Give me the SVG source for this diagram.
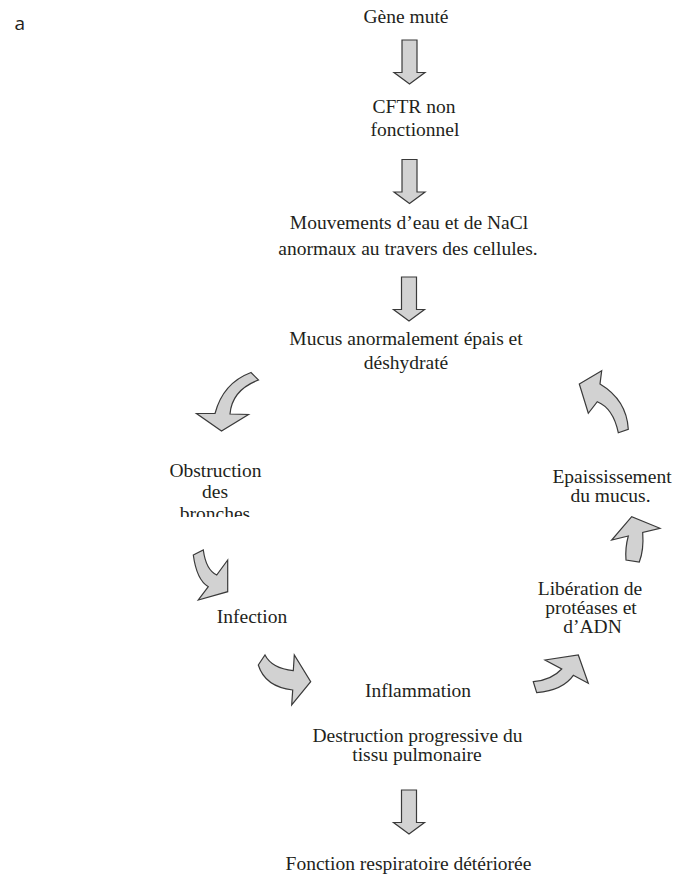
<svg xmlns="http://www.w3.org/2000/svg" width="676" height="879" viewBox="0 0 676 879">
<style>
.t{font-family:"Liberation Serif","Times New Roman",serif;font-size:19.5px;fill:#231f20;text-anchor:middle}
.lbl{font-family:"Open Sans","Liberation Sans",sans-serif;font-size:19px;fill:#231f20}
.ar{fill:#d2d2d2;stroke:#3a3a3a;stroke-width:1.2;stroke-linejoin:miter}
</style>
<defs>
<path id="down" d="M-7.5,0 H7.5 V32.5 H15.5 L0,44 L-15.5,32.5 H-7.5 Z"/>
<clipPath id="clipObs"><rect x="150" y="450" width="140" height="67"/></clipPath>
</defs>
<rect width="676" height="879" fill="#ffffff"/>
<text class="lbl" x="14.5" y="30">a</text>

<g id="gene"><text class="t" x="406" y="22.5">Gène muté</text></g>
<g id="cftr"><text class="t" x="414" y="113">CFTR non</text><text class="t" x="415" y="135.5">fonctionnel</text></g>
<g id="mouvements"><text class="t" x="409" y="229">Mouvements d’eau et de NaCl</text><text class="t" x="408" y="255">anormaux au travers des cellules.</text></g>
<g id="mucus"><text class="t" x="406" y="345">Mucus anormalement épais et</text><text class="t" x="406" y="369">déshydraté</text></g>
<g id="obstruction" clip-path="url(#clipObs)"><text class="t" x="215.5" y="476.7">Obstruction</text><text class="t" x="215" y="498.3">des</text><text class="t" x="215" y="520">bronches</text></g>
<g id="infection"><text class="t" x="252" y="623.3">Infection</text></g>
<g id="inflammation"><text class="t" x="418" y="696.7">Inflammation</text></g>
<g id="destruction"><text class="t" x="417.5" y="741.7">Destruction progressive du</text><text class="t" x="417" y="760.7">tissu pulmonaire</text></g>
<g id="fonction"><text class="t" x="408.5" y="870">Fonction respiratoire détériorée</text></g>
<g id="epaississement"><text class="t" x="612" y="482.7">Epaississement</text><text class="t" x="610.5" y="501.7">du mucus.</text></g>
<g id="liberation"><text class="t" x="590" y="595">Libération de</text><text class="t" x="591" y="614">protéases et</text><text class="t" x="592.5" y="633.3">d’ADN</text></g>

<g id="connectors">
<use href="#down" class="ar" transform="translate(409.5,40)"/>
<use href="#down" class="ar" transform="translate(409.5,159.5)"/>
<use href="#down" class="ar" transform="translate(409,277)"/>
<use href="#down" class="ar" transform="translate(409,790)"/>
<path class="ar" d="M251,372.5 Q223,383 215,413.5 L196.5,413.5 L221.5,431 L248.5,414.5 L230,414 Q232,390 258.5,380 Z"/>
<path class="ar" d="M193.3,555 L203.3,550 Q206,570 216.7,575 L227.7,560 L227.7,591.7 L198.3,600 L208.3,586.7 Q196.7,580 193.3,555 Z"/>
<path class="ar" d="M265,655 Q271.7,668.3 293.3,670.7 L294.3,655 L310.7,681.7 L291.7,705 L292.7,690 Q265,686.7 258.3,665 Z"/>
<path class="ar" d="M533.3,681.7 Q551.7,680 561.7,669 L545,660 L578.3,655 L588.3,683.3 L573.3,675.3 Q563.3,690 536.7,692.7 Z"/>
<path class="ar" d="M626,560 Q625,548 628.3,536 L611.7,540 L631.7,516.7 L660,528.3 L642.7,532.5 Q644,550 639.3,562 Z"/>
<path class="ar" d="M601.7,370.7 L579.3,384 L588.3,413.3 L597.3,401.7 Q613.3,408.3 618.3,432.7 L628.3,429.3 Q626.7,400 600,384 Z"/>
</g>
</svg>
